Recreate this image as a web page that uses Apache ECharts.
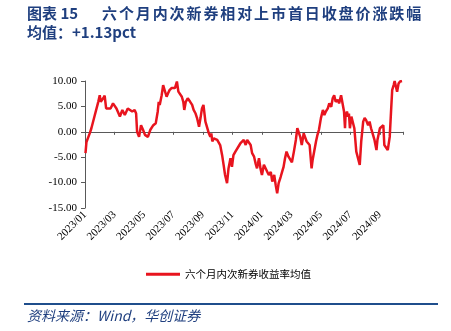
<!DOCTYPE html>
<html><head><meta charset="utf-8">
<script src="https://cdn.jsdelivr.net/npm/echarts@6/dist/echarts.min.js"></script>
<style>html,body{margin:0;padding:0;background:#fff}#c{width:451px;height:331px}</style>
</head><body><div id="c"></div>
<script>
const titleLabel = '图表 15';
const titleMain = '六个月内次新券相对上市首日收盘价涨跌幅';
const titleLine2 = '均值：+1.13pct';
const seriesName = '六个月内次新券收益率均值';
const sourceText = '资料来源：Wind，华创证券';
const yTicks = [-15, -10, -5, 0, 5, 10];
const dates = [
'2023-01-02','2023-01-04','2023-01-11','2023-01-14','2023-01-21','2023-01-28','2023-02-01','2023-02-03','2023-02-08','2023-02-11',
'2023-02-14','2023-02-17','2023-02-23','2023-02-28','2023-03-05','2023-03-12','2023-03-17','2023-03-22','2023-03-28','2023-04-02',
'2023-04-07','2023-04-12','2023-04-15','2023-04-17','2023-04-21','2023-04-25','2023-04-29','2023-05-03','2023-05-09','2023-05-14',
'2023-05-17','2023-05-20','2023-05-25','2023-05-29','2023-06-01','2023-06-03','2023-06-07','2023-06-10','2023-06-13','2023-06-17',
'2023-06-20','2023-06-23','2023-06-27','2023-06-30','2023-07-04','2023-07-08','2023-07-11','2023-07-15','2023-07-18','2023-07-21',
'2023-07-23','2023-07-26','2023-07-30','2023-08-03','2023-08-05','2023-08-09','2023-08-12','2023-08-16','2023-08-19','2023-08-23',
'2023-08-26','2023-08-29','2023-09-02','2023-09-06','2023-09-09','2023-09-13','2023-09-16','2023-09-18','2023-09-20','2023-09-23',
'2023-09-30','2023-10-06','2023-10-10','2023-10-13','2023-10-16','2023-10-20','2023-10-23','2023-10-27','2023-10-30','2023-11-03',
'2023-11-07','2023-11-11','2023-11-17','2023-11-21','2023-11-24','2023-11-28','2023-12-01','2023-12-04','2023-12-08','2023-12-11',
'2023-12-15','2023-12-18','2023-12-21','2023-12-25','2023-12-28','2024-01-01','2024-01-05','2024-01-09','2024-01-12','2024-01-15',
'2024-01-19','2024-01-22','2024-01-26','2024-01-29','2024-02-02','2024-02-05','2024-02-09','2024-02-12','2024-02-15','2024-02-18',
'2024-02-21','2024-02-25','2024-02-28','2024-03-02','2024-03-06','2024-03-10','2024-03-13','2024-03-15','2024-03-19','2024-03-22',
'2024-03-26','2024-03-29','2024-04-02','2024-04-05','2024-04-08','2024-04-12','2024-04-14','2024-04-17','2024-04-21','2024-04-24',
'2024-04-27','2024-05-01','2024-05-05','2024-05-08','2024-05-11','2024-05-15','2024-05-18','2024-05-22','2024-05-25','2024-05-28',
'2024-06-01','2024-06-05','2024-06-08','2024-06-12','2024-06-15','2024-06-18','2024-06-20','2024-06-21','2024-06-24','2024-06-26',
'2024-06-28','2024-06-30','2024-07-03','2024-07-06','2024-07-09','2024-07-13','2024-07-16','2024-07-20','2024-07-23','2024-07-27',
'2024-07-30','2024-08-03','2024-08-07','2024-08-10','2024-08-13','2024-08-17','2024-08-20','2024-08-24','2024-08-26','2024-08-29',
'2024-09-01','2024-09-05','2024-09-08','2024-09-10','2024-09-14','2024-09-17','2024-09-21','2024-09-24','2024-09-26','2024-09-29',
'2024-10-01','2024-10-04','2024-10-06','2024-10-09','2024-10-12','2024-10-16'
];
const values = [
-4.2,-2.0,-0.2,0.7,3.3,5.9,7.2,5.9,6.6,7.1,
4.6,4.9,4.6,5.6,4.6,3.0,4.3,3.3,4.6,4.9,
4.0,4.3,3.6,0.0,-1.0,1.3,0.4,-0.6,-1.0,0.4,
0.7,1.3,1.7,4.0,5.9,5.3,7.2,9.2,8.9,6.9,
7.6,8.2,8.6,8.9,8.6,9.9,7.9,8.2,6.9,5.9,
4.3,5.9,6.6,6.9,5.9,5.3,4.3,3.6,2.7,1.0,
2.7,4.6,5.3,2.0,1.7,-0.3,-1.0,-0.3,-1.9,-1.3,
-1.6,-2.6,-4.6,-6.5,-8.5,-10.1,-7.2,-5.2,-6.9,-4.6,
-3.9,-3.6,-2.3,-2.6,-1.6,-2.6,-1.6,-1.3,-2.6,-4.2,
-4.9,-6.2,-7.2,-5.2,-7.2,-8.5,-6.5,-6.2,-7.9,-8.5,
-7.9,-9.8,-8.5,-10.5,-12.1,-10.1,-8.9,-7.9,-6.9,-5.2,
-3.9,-4.9,-4.6,-6.0,-3.9,-1.6,0.7,1.0,-1.0,-2.6,
-0.3,-0.6,-1.9,-1.6,-2.6,-7.2,-5.6,-5.9,-1.9,-0.6,
0.4,2.7,4.3,3.3,4.0,4.6,5.6,4.9,6.6,7.2,
5.9,6.3,5.6,7.2,6.9,4.0,0.7,3.0,4.0,3.0,
3.6,0.7,3.0,2.7,0.7,-3.9,-4.2,-6.5,-1.9,2.0,
2.7,2.3,1.3,2.0,0.7,-0.6,-1.6,-3.6,-1.6,-1.9,
0.7,0.4,1.3,-2.6,-2.9,-3.6,-1.0,4.6,8.2,9.2,
10.0,9.9,7.9,9.5,9.9,10.0
];

function monthIndex(s) {
  const [y, m, d] = s.split('-').map(Number);
  return (y - 2023) * 12 + (m - 1) + (d - 1) / 30;
}
function monthLabel(v) {
  const r = Math.round(v);
  const y = 2023 + Math.floor(r / 12);
  const m = (r % 12) + 1;
  return y + '/' + (m < 10 ? '0' + m : m);
}
const points = dates.map((d, i) => [monthIndex(d), values[i]]);
const xMax = monthIndex('2024-10-18');

const navy = '#1F3F7F';
const axisColor = '#595959';
const serif = '"Liberation Serif", "Times New Roman", serif';
const titleFont = 'bold 15px "Noto Sans CJK SC"';

const graphics = [
  {type: 'text', left: 27, top: 6, style: {text: titleLabel, fill: navy, font: titleFont}},
  {type: 'text', left: 27, top: 25, style: {text: titleLine2, fill: navy, font: titleFont}},
  {type: 'rect', shape: {x: 24, y: 303, width: 414, height: 2}, style: {fill: '#1F4E8C'}},
  {type: 'text', left: 27, top: 309, style: {text: sourceText, fill: navy,
    font: 'italic 14px "Noto Sans CJK SC"'}}
];
Array.from(titleMain).forEach((ch, i) => {
  graphics.push({type: 'text', left: 102 + i * 16.9, top: 6,
    style: {text: ch, fill: navy, font: titleFont}});
});

const chart = echarts.init(document.getElementById('c'), null, {renderer: 'canvas'});
chart.setOption({
  animation: false,
  backgroundColor: '#fff',
  grid: {left: 85, right: 48, top: 81, bottom: 123, containLabel: false},
  xAxis: [{
    type: 'value', min: 0, max: xMax, interval: 2, position: 'bottom',
    axisLine: {show: false, onZero: false},
    axisTick: {show: false},
    splitLine: {show: false},
    axisLabel: {rotate: 45, margin: 5, fontFamily: serif, fontSize: 11, color: '#000',
      formatter: monthLabel, showMaxLabel: false}
  }, {
    type: 'value', min: 0, max: xMax, interval: 2, position: 'top',
    axisLine: {show: true, onZero: true, lineStyle: {color: axisColor, width: 1}},
    axisTick: {show: true, inside: true, length: 3, lineStyle: {color: axisColor}},
    axisLabel: {show: false},
    splitLine: {show: false}
  }],
  yAxis: {
    type: 'value', min: yTicks[0], max: yTicks[yTicks.length - 1], interval: 5,
    axisLine: {show: true, onZero: false, lineStyle: {color: axisColor, width: 1}},
    axisTick: {show: true, length: 4, lineStyle: {color: axisColor}},
    splitLine: {show: false},
    axisLabel: {margin: 8, fontFamily: serif, fontSize: 11, color: '#000',
      formatter: v => v.toFixed(2)}
  },
  legend: {
    show: true, left: 141, top: 264, itemWidth: 34, itemHeight: 3, itemGap: 6,
    icon: 'rect',
    textStyle: {fontFamily: '"Noto Sans CJK SC"', fontSize: 10.5, color: '#000', padding: [0,0,0,0]},
    data: [seriesName]
  },
  series: [{
    name: seriesName, type: 'line', xAxisIndex: 0, data: points,
    showSymbol: false, symbol: 'none', clip: true,
    lineStyle: {color: '#E8141E', width: 2.5},
    itemStyle: {color: '#E8141E'}
  }],
  graphic: graphics
});
</script></body></html>
